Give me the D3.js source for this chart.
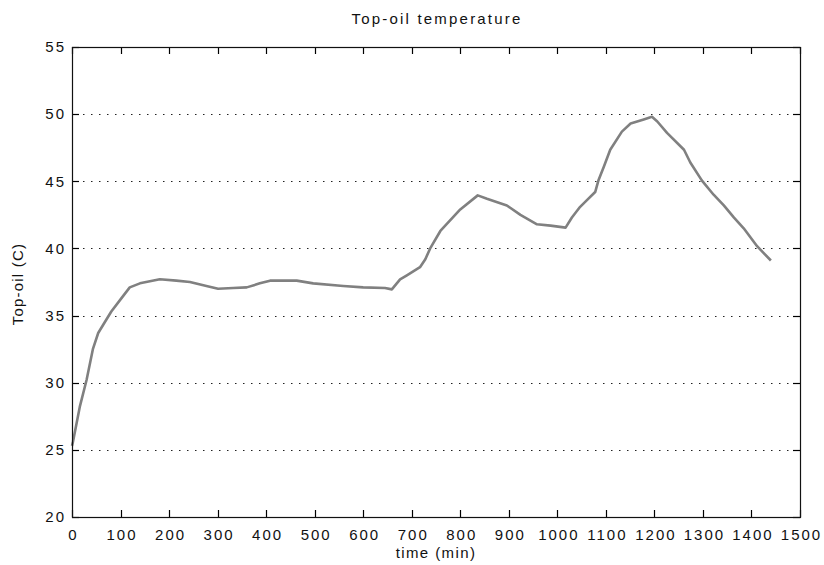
<!DOCTYPE html>
<html>
<head>
<meta charset="utf-8">
<script src="https://cdn.jsdelivr.net/npm/d3@7"></script>
<style>
  html, body { margin: 0; padding: 0; background: #fff; }
  svg { display: block; }
  text { font-family: "Liberation Sans", Arial, sans-serif; fill: #111; }
</style>
</head>
<body>
<svg id="chart" width="824" height="565"></svg>
<script>
const timeMin = [0, 2, 16, 30, 43, 54, 64, 81, 102, 119, 140, 181, 215, 243, 277, 301, 332, 360, 387, 408, 463, 497, 559, 600, 645, 659, 676, 690, 717, 728, 738, 759, 800, 836, 855, 896, 924, 958, 986, 1017, 1030, 1047, 1061, 1078, 1085, 1096, 1109, 1133, 1151, 1178, 1195, 1206, 1226, 1261, 1274, 1298, 1322, 1343, 1364, 1384, 1412, 1440];
const topOil = [25.3, 25.6, 28.2, 30.2, 32.5, 33.7, 34.3, 35.3, 36.3, 37.1, 37.4, 37.7, 37.6, 37.5, 37.2, 37.0, 37.05, 37.1, 37.4, 37.6, 37.6, 37.4, 37.2, 37.1, 37.05, 36.95, 37.7, 38.0, 38.6, 39.2, 40.0, 41.3, 42.9, 43.95, 43.7, 43.2, 42.5, 41.8, 41.7, 41.55, 42.3, 43.1, 43.6, 44.2, 45.1, 46.1, 47.35, 48.7, 49.3, 49.6, 49.8, 49.45, 48.6, 47.35, 46.4, 45.05, 44.0, 43.2, 42.3, 41.5, 40.15, 39.1];
const xTicks = [0, 100, 200, 300, 400, 500, 600, 700, 800, 900, 1000, 1100, 1200, 1300, 1400, 1500];
const yTicks = [20, 25, 30, 35, 40, 45, 50, 55];
const titleText = "Top-oil temperature";
const xLabelText = "time (min)";
const yLabelText = "Top-oil (C)";

const L = 72, R = 800, T = 47, B = 517;
const svg = d3.select("#chart");
const x = d3.scaleLinear().domain([0, 1500]).range([L, R]);
const y = d3.scaleLinear().domain([20, 55]).range([B, T]);
const FONT = "Liberation Sans, Arial, sans-serif";
const px = v => Math.round(v) + 0.5;

// grid
svg.append("g").selectAll("line")
  .data(yTicks.filter(v => v > 20 && v < 55))
  .join("line")
  .attr("x1", L + 3).attr("x2", R - 3)
  .attr("y1", d => px(y(d))).attr("y2", d => px(y(d)))
  .attr("stroke", "#222").attr("stroke-width", 1)
  .attr("stroke-dasharray", "1.5,6.5");

// data line
const line = d3.line().x((d, i) => x(timeMin[i])).y(d => y(d));
svg.append("path")
  .datum(topOil)
  .attr("d", line)
  .attr("fill", "none")
  .attr("stroke", "#808080")
  .attr("stroke-width", 2.6)
  .attr("stroke-linejoin", "round");

const tickLen = 7;
const ticks = svg.append("g").attr("stroke", "#000").attr("stroke-width", 1.2);
// bottom & top x ticks
ticks.selectAll(".xb").data(xTicks).join("line").attr("class", "xb")
  .attr("x1", d => px(x(d))).attr("x2", d => px(x(d))).attr("y1", B).attr("y2", B - tickLen);
ticks.selectAll(".xt").data(xTicks).join("line").attr("class", "xt")
  .attr("x1", d => px(x(d))).attr("x2", d => px(x(d))).attr("y1", T).attr("y2", T + tickLen);
// left & right y ticks
ticks.selectAll(".yl").data(yTicks).join("line").attr("class", "yl")
  .attr("y1", d => px(y(d))).attr("y2", d => px(y(d))).attr("x1", L).attr("x2", L + tickLen);
ticks.selectAll(".yr").data(yTicks).join("line").attr("class", "yr")
  .attr("y1", d => px(y(d))).attr("y2", d => px(y(d))).attr("x1", R).attr("x2", R - tickLen);

const labelStyle = g => g.selectAll("text").attr("font-size", 15).attr("letter-spacing", "2px")
  .attr("fill", "#111").attr("font-family", FONT);

// bottom axis labels
svg.append("g").attr("transform", `translate(0,${B})`)
  .call(d3.axisBottom(x).tickValues(xTicks).tickSize(0).tickPadding(12).tickFormat(d3.format("d")))
  .call(g => { g.select(".domain").remove(); g.selectAll(".tick line").remove(); })
  .call(labelStyle)
  .call(g => g.selectAll("text").attr("dx", "1px"));
// left axis labels
svg.append("g").attr("transform", `translate(${L},0)`)
  .call(d3.axisLeft(y).tickValues(yTicks).tickSize(0).tickPadding(6).tickFormat(d3.format("d")))
  .call(g => { g.select(".domain").remove(); g.selectAll(".tick line").remove(); })
  .call(labelStyle);

// box
svg.append("rect").attr("x", L + 0.5).attr("y", T + 0.5).attr("width", R - L).attr("height", B - T)
  .attr("fill", "none").attr("stroke", "#111").attr("stroke-width", 1.2);

// titles
svg.append("text").attr("x", (L + R) / 2 + 1).attr("y", 24).attr("text-anchor", "middle")
  .attr("font-size", 15).attr("letter-spacing", "2.2px").text(titleText);
svg.append("text").attr("x", (L + R) / 2).attr("y", 558).attr("text-anchor", "middle")
  .attr("font-size", 15).attr("letter-spacing", "1.4px").text(xLabelText);
svg.append("text").attr("transform", `translate(23,284) rotate(-90)`).attr("text-anchor", "middle")
  .attr("font-size", 15).attr("letter-spacing", "1.2px").text(yLabelText);
</script>
</body>
</html>
